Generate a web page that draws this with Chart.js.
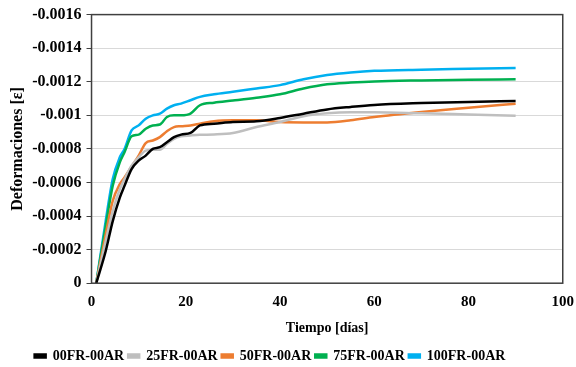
<!DOCTYPE html>
<html>
<head>
<meta charset="utf-8">
<script src="https://cdn.jsdelivr.net/npm/chart.js@4/dist/chart.umd.min.js"></script>
<style>
  html, body { margin: 0; padding: 0; background: #fff; }
  #wrap { width: 576px; height: 367px; }
</style>
</head>
<body>
<div id="wrap"><canvas id="chart"></canvas></div>
<script>
// Tiempo [días] sample points
const days = [1, 3, 4.5, 6, 7, 8.5, 10, 11.5, 13, 14.5, 16, 17.5, 19, 21, 23, 26, 30, 35, 40, 45, 50, 55, 60, 70, 80, 90];

// Deformaciones (strain), negative = shortening
const fr00 = [0, -0.00019, -0.00037, -0.00051, -0.00058, -0.00068, -0.00073, -0.00076, -0.0008, -0.00081, -0.00084, -0.00087, -0.000885, -0.000895, -0.00094, -0.00095, -0.00096, -0.000964, -0.000984, -0.00101, -0.001035, -0.00105, -0.001062, -0.001073, -0.00108, -0.001085];
const fr25 = [0, -0.00025, -0.00043, -0.00056, -0.00062, -0.0007, -0.00075, -0.00079, -0.000795, -0.000795, -0.00083, -0.00086, -0.000875, -0.00088, -0.000884, -0.000886, -0.000895, -0.00093, -0.00096, -0.000995, -0.001012, -0.001018, -0.001018, -0.001012, -0.001005, -0.000998];
const fr50 = [0, -0.00029, -0.00049, -0.00059, -0.00063, -0.000695, -0.00076, -0.000835, -0.00085, -0.00087, -0.000905, -0.00093, -0.000935, -0.00094, -0.00095, -0.000965, -0.00097, -0.00097, -0.00096, -0.000958, -0.000958, -0.00097, -0.00099, -0.00102, -0.001045, -0.001069];
const fr75 = [0, -0.00034, -0.00058, -0.00072, -0.00078, -0.000875, -0.000885, -0.00092, -0.00094, -0.000945, -0.00099, -0.001, -0.001, -0.00101, -0.00106, -0.001075, -0.001088, -0.001105, -0.001125, -0.00116, -0.001185, -0.001195, -0.001202, -0.001208, -0.001212, -0.001215];
const fr100 = [0, -0.00037, -0.00062, -0.00075, -0.0008, -0.00091, -0.00094, -0.00098, -0.001, -0.00101, -0.00104, -0.00106, -0.00107, -0.00109, -0.00111, -0.001125, -0.00114, -0.00116, -0.00118, -0.001215, -0.00124, -0.001255, -0.001265, -0.001272, -0.001277, -0.001282];

const seriesNames = ['00FR-00AR', '25FR-00AR', '50FR-00AR', '75FR-00AR', '100FR-00AR'];
const seriesData = [fr00, fr25, fr50, fr75, fr100];
const seriesColors = ['#000000', '#bfbfbf', '#ed7d31', '#00b050', '#00b0f0'];

const yTicks = [0, -0.0002, -0.0004, -0.0006, -0.0008, -0.001, -0.0012, -0.0014, -0.0016];
const yTickLabels = ['0', '-0.0002', '-0.0004', '-0.0006', '-0.0008', '-0.001', '-0.0012', '-0.0014', '-0.0016'];

const FONT = "'Liberation Serif', 'Times New Roman', serif";

// box around the plot area
const frameBox = {
  id: 'frameBox',
  afterDatasetsDraw(chart) {
    const { ctx, chartArea: a } = chart;
    ctx.save();
    ctx.strokeStyle = '#404040';
    ctx.lineWidth = 1.5;
    ctx.strokeRect(a.left, a.top, a.right - a.left, a.bottom - a.top);
    ctx.restore();
  }
};

// legend sits a little left of centre in the original
const legendShift = {
  id: 'legendShift',
  afterLayout(chart) {
    if (chart.legend) {
      chart.legend.left -= 17;
      chart.legend.right -= 17;
    }
  }
};

const ctx = document.getElementById('chart').getContext('2d');
new Chart(ctx, {
  type: 'line',
  data: {
    datasets: seriesNames.map((name, i) => ({
      label: name,
      data: days.map((d, j) => ({ x: d, y: seriesData[i][j] })),
      borderColor: seriesColors[i],
      backgroundColor: seriesColors[i],
      borderWidth: 2.5,
      pointRadius: 0,
      fill: false,
      cubicInterpolationMode: 'monotone',
    })),
  },
  options: {
    responsive: true,
    maintainAspectRatio: false,
    animation: false,
    layout: { padding: { top: 13, right: 3, left: 1, bottom: -6 } },
    plugins: {
      legend: {
        position: 'bottom',
        labels: {
          color: '#000',
          font: { family: FONT, size: 14, weight: 'bold' },
          boxWidth: 11,
          boxHeight: 3,
          padding: 4,
        },
      },
      tooltip: { enabled: false },
    },
    scales: {
      x: {
        type: 'linear',
        min: 0,
        max: 100,
        border: { display: false },
        grid: { display: false },
        ticks: {
          stepSize: 20,
          color: '#000',
          font: { family: FONT, size: 15, weight: 'bold' },
          padding: 2,
        },
        title: {
          display: true,
          text: 'Tiempo [días]',
          color: '#000',
          font: { family: FONT, size: 14, weight: 'bold' },
          padding: { top: 7, bottom: 8 },
        },
      },
      y: {
        min: -0.0016,
        max: 0,
        reverse: true,
        border: { display: false },
        grid: {
          color: '#d9d9d9',
          drawTicks: true,
          tickLength: 5,
          tickColor: '#404040',
        },
        afterBuildTicks: axis => { axis.ticks = yTicks.map(v => ({ value: v })); },
        ticks: {
          color: '#000',
          font: { family: FONT, size: 16, weight: 'bold' },
          padding: 5,
          callback: v => yTickLabels[yTicks.indexOf(v)],
        },
        title: {
          display: true,
          text: 'Deformaciones [ε]',
          color: '#000',
          font: { family: FONT, size: 16, weight: 'bold' },
          padding: { top: 7, bottom: 0 },
        },
      },
    },
  },
  plugins: [frameBox, legendShift],
});
</script>
</body>
</html>
